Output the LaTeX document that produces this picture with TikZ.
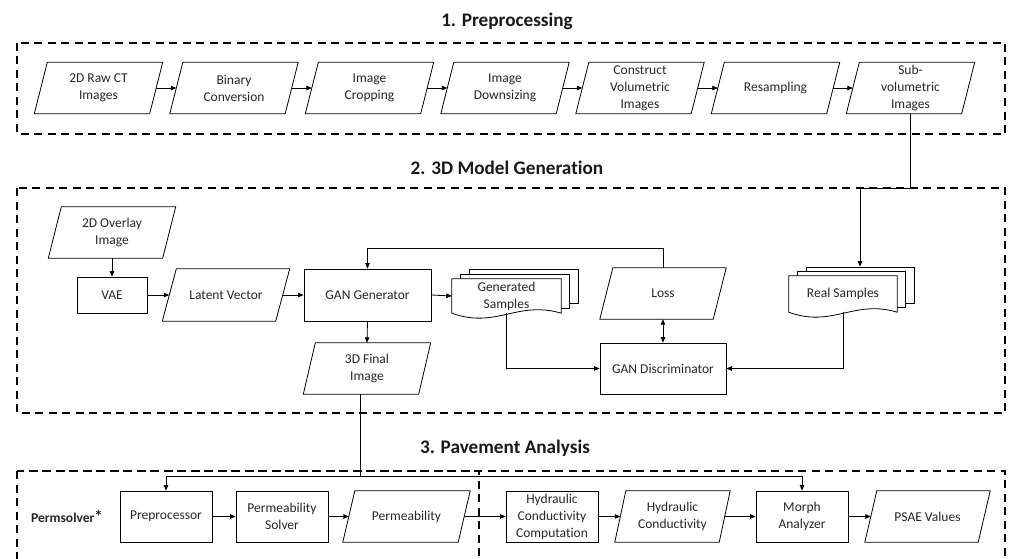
\documentclass[tikz,border=0pt]{standalone}
\usepackage{fontspec}
\setmainfont{Carlito}[Ligatures=NoCommon]
\usetikzlibrary{arrows.meta,calc}
\pgfdeclarelayer{bg}
\pgfsetlayers{bg,main}
\begin{document}
\begin{tikzpicture}[x=1pt,y=-1pt,
  txt/.style={font=\fontsize{13.5}{17}\selectfont, align=center, text=black!85, inner sep=0pt},
  rbox/.style={txt, draw, line width=0.8pt, minimum height=51pt},
  pbox/.style={txt, minimum width=115pt, minimum height=51pt},
  back/.style={draw, fill=white, line width=0.8pt, inner sep=0pt},
  arr/.style={line width=0.8pt, -{Triangle[length=5.5pt,width=4.5pt]}},
  ln/.style={line width=0.8pt},
  sect/.style={draw, line width=2.2pt, dash pattern=on 8pt off 5.5pt},
  ttl/.style={font=\fontsize{19.2}{22}\selectfont\bfseries, text=black!90, inner sep=0pt}
]
\useasboundingbox (0,0) rectangle (1009,559);
\clip (0,0) rectangle (1009,559);

% section frames and titles
\node[ttl] (t1) at (507,21) {1. Preprocessing};
\node[ttl] (t2) at (507,168) {2. 3D Model Generation};
\node[ttl] (t3) at (505,448) {3. Pavement Analysis};
\draw[sect] (17,43) rectangle (1005,134);
\draw[sect] (17,188) rectangle (1005,413);
\draw[sect] (17,471) rectangle (1005,620);
\draw[sect] (17,471) rectangle (479,620);

% row 1
\node[pbox] (raw) at (98.5,88) {2D Raw CT\\Images};
\node[pbox] (bin) at (234,88) {Binary\\Conversion};
\node[pbox] (crop) at (369.5,88) {Image\\Cropping};
\node[pbox] (down) at (505,88) {Image\\Downsizing};
\node[pbox] (vol) at (640,88) {Construct\\Volumetric\\Images};
\node[pbox] (res) at (775.5,88) {Resampling};
\node[pbox] (sv) at (910.5,88) {Sub-\\volumetric\\Images};
\foreach \a/\b in {raw/bin,bin/crop,crop/down,down/vol,vol/res,res/sv}
  \draw[arr] (\a.east) -- (\b.west);

% section 2
\node[pbox, minimum width=114pt] (ov) at (112,232.5) {2D Overlay\\Image};
\node[rbox, minimum width=70pt, minimum height=36pt] (vae) at (112,295) {VAE};
\node[pbox, minimum width=113pt, minimum height=52pt] (lat) at (226,295) {Latent Vector};
\node[rbox, minimum width=127pt, minimum height=52pt] (gen) at (367.5,295) {GAN Generator};
\node[pbox] (fin) at (367,368.5) {3D Final\\Image};
\node[txt, minimum width=109pt, minimum height=34pt] (gs) at (506.5,296) {Generated\\Samples};
\node[pbox, minimum width=113pt] (loss) at (663,293.5) {Loss};
\node[rbox, minimum width=126pt] (disc) at (663,368.5) {GAN Discriminator};
\node[txt, minimum width=108pt, minimum height=36pt] (rs) at (843,294) {Real Samples};

\begin{pgfonlayer}{bg}
  \node[back, minimum width=109pt, minimum height=34pt] (gs2) at (523.5,286) {};
  \node[back, minimum width=109pt, minimum height=34pt] (gs1) at (515,291) {};
  \filldraw[ln, fill=white] (gs.south west) -- (gs.north west) -- (gs.north east) -- (gs.south east)
    .. controls ($(gs.south east)+(-44,-13)$) and ($(gs.south west)+(44,16)$) .. (gs.south west) -- cycle;
  \node[back, minimum width=108pt, minimum height=36pt] (rs2) at (860,285) {};
  \node[back, minimum width=108pt, minimum height=36pt] (rs1) at (851.5,289.5) {};
  \filldraw[ln, fill=white] (rs.south west) -- (rs.north west) -- (rs.north east) -- (rs.south east)
    .. controls ($(rs.south east)+(-43,-13)$) and ($(rs.south west)+(43,16)$) .. (rs.south west) -- cycle;
\end{pgfonlayer}

\draw[arr] (ov.south) -- (vae.north);
\draw[arr] (vae.east) -- (lat.west);
\draw[arr] (lat.east) -- (gen.west);
\draw[arr] (gen.east) -- (gs.west);
\draw[arr] (gen.south) -- (fin.north);
\draw[arr] (loss.north) -- ++(0,-19) -| (gen.north);
\draw[line width=0.8pt, {Triangle[length=5.5pt,width=4.5pt]}-{Triangle[length=5.5pt,width=4.5pt]}] (loss.south) -- (disc.north);
\draw[arr] (gs.south) |- (disc.west);
\draw[arr] (rs.south) |- (disc.east);
\coordinate (k) at (910.5,188);
\draw[arr] (sv.south) -- (k) -| (rs2.north);

% section 3
\node[txt, font=\fontsize{13.5}{17}\selectfont\bfseries] (psl) at (67,516.5) {Permsolver\raisebox{0.5pt}{\fontsize{17}{17}\selectfont *}};
\node[rbox, minimum width=92pt] (pre) at (166,516.5) {Preprocessor};
\node[rbox, minimum width=92pt] (psol) at (282,516.5) {Permeability\\Solver};
\node[pbox] (perm) at (406.5,516.5) {Permeability};
\node[rbox, minimum width=92pt] (hcc) at (552,516.5) {Hydraulic\\Conductivity\\Computation};
\node[pbox, minimum width=104pt] (hc) at (672.5,516.5) {Hydraulic\\Conductivity};
\node[rbox, minimum width=92pt] (morph) at (802,516.5) {Morph\\Analyzer};
\node[pbox, minimum width=113pt] (psae) at (927.5,516.5) {PSAE Values};
\foreach \a/\b in {pre/psol,psol/perm,perm/hcc,hcc/hc,hc/morph,morph/psae}
  \draw[arr] (\a.east) -- (\b.west);
\coordinate (j) at (360,476);
\draw[ln] (fin.south -| j) -- (j);
\draw[arr] (j) -| (pre.north);
\draw[arr] (j) -| (morph.north);

% parallelogram outlines
\foreach \n/\s in {raw/13,bin/13,crop/13,down/13,vol/13,res/13,sv/13,ov/13,lat/14,fin/12,loss/13,perm/12,hc/11,psae/12}
  \draw[ln] ($(\n.south west)+(-\s/2,0)$) -- ($(\n.north west)+(\s/2,0)$) -- ($(\n.north east)+(\s/2,0)$) -- ($(\n.south east)+(-\s/2,0)$) -- cycle;
\end{tikzpicture}
\end{document}
